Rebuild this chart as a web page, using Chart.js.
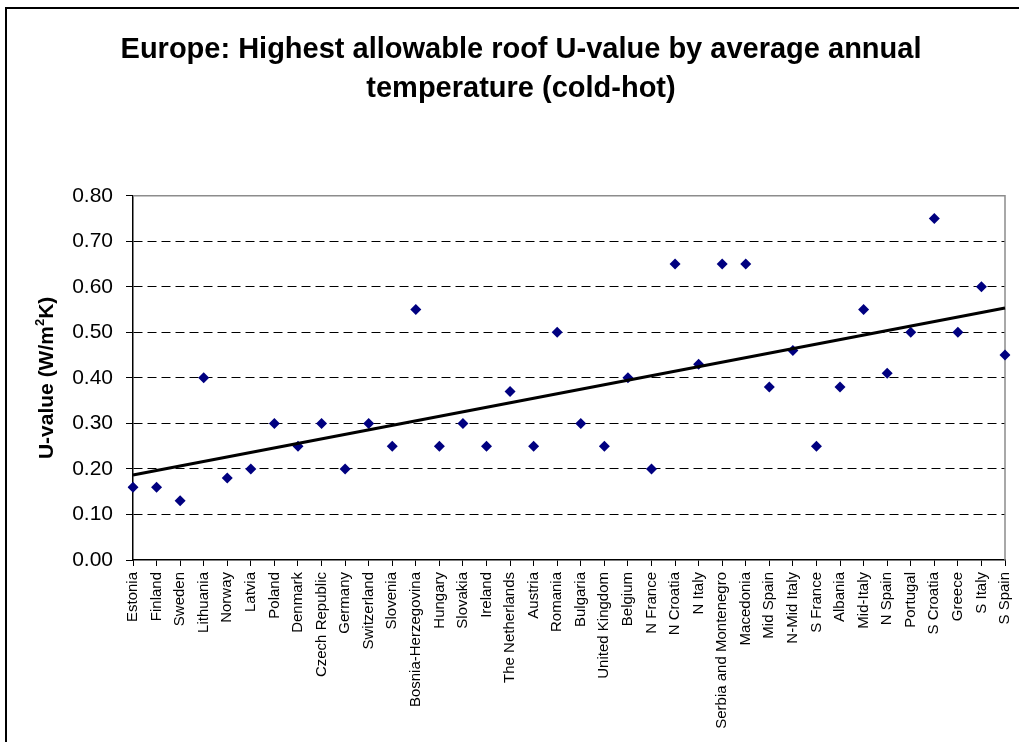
<!DOCTYPE html>
<html>
<head>
<meta charset="utf-8">
<title>Europe roof U-values</title>
<script src="https://cdn.jsdelivr.net/npm/chart.js@4/dist/chart.umd.min.js"></script>
<style>
  html, body { margin: 0; padding: 0; background: #fff; }
  #wrap { position: relative; width: 1019px; height: 742px; overflow: hidden; }
  #frame { position: absolute; left: 5px; top: 7px; width: 1030px; height: 760px;
           border-left: 2px solid #000; border-top: 2px solid #000; pointer-events: none; }
  canvas { position: absolute; left: 0; top: 0; }
</style>
</head>
<body>
<div id="wrap">
  <canvas id="chart" width="1019" height="742"></canvas>
  <div id="frame"></div>
</div>
<script>
// Countries / regions ordered from coldest to hottest average annual temperature
const categories = [
  'Estonia', 'Finland', 'Sweden', 'Lithuania', 'Norway', 'Latvia', 'Poland',
  'Denmark', 'Czech Republic', 'Germany', 'Switzerland', 'Slovenia',
  'Bosnia-Herzegovina', 'Hungary', 'Slovakia', 'Ireland', 'The Netherlands',
  'Austria', 'Romania', 'Bulgaria', 'United Kingdom', 'Belgium', 'N France',
  'N Croatia', 'N Italy', 'Serbia and Montenegro', 'Macedonia', 'Mid Spain',
  'N-Mid Italy', 'S France', 'Albania', 'Mid-Italy', 'N Spain', 'Portugal',
  'S Croatia', 'Greece', 'S Italy', 'S Spain'
];

// Highest allowable roof U-value, W/m²K
const uValues = [
  0.16, 0.16, 0.13, 0.40, 0.18, 0.20, 0.30,
  0.25, 0.30, 0.20, 0.30, 0.25,
  0.55, 0.25, 0.30, 0.25, 0.37,
  0.25, 0.50, 0.30, 0.25, 0.40, 0.20,
  0.65, 0.43, 0.65, 0.65, 0.38,
  0.46, 0.25, 0.38, 0.55, 0.41, 0.50,
  0.75, 0.50, 0.60, 0.45
];

const yTicks = [0, 0.1, 0.2, 0.3, 0.4, 0.5, 0.6, 0.7, 0.8];
const titleLines = ['Europe: Highest allowable roof U-value by average annual', 'temperature (cold-hot)'];

// Least-squares linear trend over category index
function linearFit(vals) {
  const n = vals.length;
  let sx = 0, sy = 0, sxx = 0, sxy = 0;
  vals.forEach((v, i) => { sx += i; sy += v; sxx += i * i; sxy += i * v; });
  const b = (n * sxy - sx * sy) / (n * sxx - sx * sx);
  const a = (sy - b * sx) / n;
  return { a, b };
}
const fit = linearFit(uValues);
const trend = categories.map((_, i) =>
  (i === 0 || i === categories.length - 1) ? fit.a + fit.b * i : null);

const FONT = "'Liberation Sans', Arial, sans-serif";

// Grey frame around the top and right of the plot area
const plotFrame = {
  id: 'plotFrame',
  beforeDatasetsDraw(chart) {
    const { ctx, chartArea: a } = chart;
    ctx.save();
    ctx.strokeStyle = '#8c8c8c';
    ctx.lineWidth = 1.5;
    ctx.beginPath();
    ctx.moveTo(a.left, a.top);
    ctx.lineTo(a.right, a.top);
    ctx.lineTo(a.right, a.bottom);
    ctx.stroke();
    ctx.restore();
  }
};

// Vertical axis title with a superscript exponent
const yTitle = {
  id: 'yTitle',
  afterDraw(chart) {
    const { ctx, chartArea: a } = chart;
    const big = 'bold 21px ' + FONT;
    const small = 'bold 13px ' + FONT;
    const parts = [['U-value (W/m', big, 0], ['2', small, -9], ['K)', big, 0]];
    ctx.save();
    let total = 0;
    parts.forEach(p => { ctx.font = p[1]; total += ctx.measureText(p[0]).width; });
    ctx.translate(53, (a.top + a.bottom) / 2);
    ctx.rotate(-Math.PI / 2);
    ctx.fillStyle = '#000';
    ctx.textBaseline = 'alphabetic';
    let x = -total / 2;
    parts.forEach(p => {
      ctx.font = p[1];
      ctx.fillText(p[0], x, p[2]);
      x += ctx.measureText(p[0]).width;
    });
    ctx.restore();
  }
};

new Chart(document.getElementById('chart'), {
  type: 'line',
  data: {
    labels: categories,
    datasets: [
      {
        label: 'Trend',
        data: trend,
        borderColor: '#000',
        borderWidth: 3,
        pointRadius: 0,
        spanGaps: true,
        order: 1
      },
      {
        label: 'U-value',
        data: uValues,
        showLine: false,
        pointStyle: 'rectRot',
        pointRadius: 5.5,
        pointBackgroundColor: '#000080',
        pointBorderColor: '#000080',
        pointBorderWidth: 0,
        order: 2
      }
    ]
  },
  options: {
    responsive: false,
    animation: false,
    events: [],
    layout: { padding: { left: 37, right: 14, top: 0, bottom: 0 } },
    plugins: {
      legend: { display: false },
      tooltip: { enabled: false },
      title: {
        display: true,
        text: titleLines,
        color: '#000',
        font: { family: FONT, size: 29, weight: 'bold', lineHeight: 1.34 },
        padding: { top: 31, bottom: 87 }
      }
    },
    scales: {
      x: {
        type: 'category',
        offset: false,
        border: { display: true, color: '#000', width: 1.5 },
        grid: { display: true, drawOnChartArea: false, drawTicks: true, tickLength: 6, color: '#000', lineWidth: 1 },
        ticks: {
          autoSkip: false, maxRotation: 90, minRotation: 90, padding: 6,
          color: '#000', font: { family: FONT, size: 15 }
        },
        afterFit(scale) {
          scale.height = 182;
          scale.paddingLeft = 0;
          scale.paddingRight = 0;
        }
      },
      y: {
        min: 0,
        max: 0.8,
        afterBuildTicks(scale) { scale.ticks = yTicks.map(v => ({ value: v })); },
        border: { display: true, color: '#000', width: 1.5, dash: [9, 5] },
        grid: {
          color: ctx => (ctx.tick && (ctx.tick.value === 0 || ctx.tick.value === 0.8)) ? 'rgba(0,0,0,0)' : '#000',
          tickColor: '#000',
          lineWidth: 1,
          tickLength: 7,
          tickBorderDash: []
        },
        ticks: {
          padding: 13,
          color: '#000',
          font: { family: FONT, size: 21 },
          callback: v => Number(v).toFixed(2)
        },
        afterFit(scale) { scale.width = 96; }
      }
    }
  },
  plugins: [plotFrame, yTitle]
});
</script>
</body>
</html>
